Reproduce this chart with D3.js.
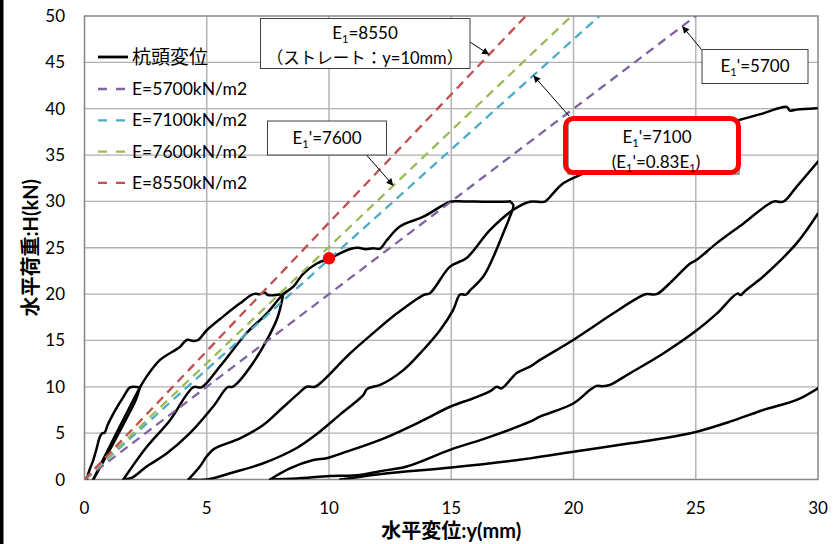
<!DOCTYPE html>
<html>
<head>
<meta charset="utf-8">
<script src="https://cdn.jsdelivr.net/npm/d3@7"></script>
<style>
  body { margin: 0; background: #fff; }
  svg { display: block; font-family: Lato, 'Noto Sans CJK JP', sans-serif; }
</style>
</head>
<body>
<svg id="chart" width="833" height="544"></svg>
<script>
// tick values
const xTicks = [0, 5, 10, 15, 20, 25, 30];
const yTicks = [0, 5, 10, 15, 20, 25, 30, 35, 40, 45, 50];

// reference lines H = k * y  (k)
const eNames = ['E=5700kN/m2', 'E=7100kN/m2', 'E=7600kN/m2', 'E=8550kN/m2'];
const eSlopes = [2.0, 2.374, 2.51, 2.77];

// 杭頭変位 : one array per loading / unloading branch  [y(mm), H(kN)]
const load1 = [[0.09, 0], [0.2, 1.0], [0.36, 2.1], [0.5, 3.4], [0.63, 4.6], [0.72, 5.0], [0.82, 5.05],
  [0.95, 5.9], [1.18, 7.1], [1.4, 8.1], [1.59, 8.9], [1.75, 9.6], [1.86, 9.95], [2.27, 9.95]];
const unload1 = [[2.27, 9.95], [2.1, 8.6], [1.7, 6.5], [1.2, 4.0], [0.7, 1.6], [0.36, 0]];
const load2 = [[0.36, 0], [0.75, 2.1], [1.25, 4.7], [1.75, 7.3], [2.27, 9.95], [2.54, 11.1], [3.09, 12.9],
  [3.9, 14.3], [4.18, 15.05], [4.45, 14.95], [4.65, 15.05], [5.0, 16.1], [5.68, 17.6], [6.36, 19.0],
  [6.9, 20], [7.2, 20], [7.35, 20.2], [7.5, 19.9], [8.13, 20]];
const unload2 = [[8.13, 20], [7.9, 17.5], [7.45, 15.0], [6.9, 12.6], [6.25, 10.4], [6.05, 10.0], [5.85, 9.95],
  [5.27, 7.9], [4.31, 5.0], [3.36, 2.8], [2.54, 1.4], [1.95, 0.2], [1.59, 0]];
const load3 = [[1.59, 0], [2.54, 3.5], [3.5, 6.4], [4.45, 9.95], [4.79, 9.95], [5.54, 12.2], [6.63, 15.8],
  [7.45, 17.9], [8.13, 20], [8.54, 20.8], [8.95, 22.2], [9.5, 23.3], [10.04, 23.86], [10.45, 24.4],
  [10.9, 24.9], [11.2, 25.0], [11.5, 24.85], [11.8, 24.95], [12.09, 24.9], [12.36, 25.8], [12.9, 27.3],
  [13.86, 28.35], [14.54, 29.4], [14.95, 29.97], [15.5, 30.0], [16.5, 29.95], [17.4, 30.0]];
const unload3 = [[17.4, 30.0], [17.54, 29.6], [17.4, 28.35], [17.13, 26.6], [16.72, 24.0], [16.31, 21.9],
  [15.77, 20.4], [15.6, 19.95], [15.36, 19.95], [15.08, 18.3], [14.54, 16.1], [13.86, 14.0], [13.04, 11.8],
  [12.09, 10.2], [11.8, 10.0], [11.55, 9.75], [11.4, 9.1], [10.45, 7.0], [9.5, 4.9], [8.68, 3.4],
  [7.31, 1.75], [5.95, 0.67], [5.0, 0], [4.25, 0]];
const load4 = [[4.25, 0], [4.72, 1.4], [5.0, 2.5], [5.3, 3.3], [6.36, 4.44], [7.31, 5.88], [8.0, 7.5],
  [8.8, 9.4], [9.09, 10.0], [9.43, 10.0], [9.77, 10.7], [10.86, 13.6], [11.81, 15.8], [12.77, 17.9],
  [13.86, 19.9], [14.13, 20.1], [14.95, 22.96], [15.63, 23.9], [16.58, 26.9], [17.54, 29.1], [18.22, 29.97],
  [18.83, 29.97], [19.04, 30.5], [19.58, 31.95], [20.27, 32.85], [21.5, 34.2], [23.0, 35.6], [24.5, 36.9],
  [25.8, 38.0], [26.81, 38.8], [27.76, 39.5], [28.72, 40.2], [28.85, 39.8], [29.13, 39.9], [29.95, 40.05]];
const load5 = [[7.59, 0], [8.4, 1.2], [9.36, 2.1], [9.9, 2.3], [10.72, 3.0], [12.3, 4.5], [13.86, 6.4],
  [14.95, 7.85], [15.9, 8.76], [16.58, 9.5], [16.86, 10.0], [17.06, 9.83], [17.68, 11.5], [18.22, 12.17],
  [18.63, 12.9], [19.99, 15.05], [21.63, 17.93], [22.72, 19.72], [22.99, 20.0], [23.4, 20.0], [23.95, 21.2],
  [24.77, 23.3], [25.04, 23.7], [25.86, 25.5], [26.94, 27.6], [28.17, 29.97], [28.58, 29.97], [29.13, 31.6],
  [30.0, 34.3]];
const unload5 = [[30.0, 28.7], [29.13, 25.5], [27.76, 21.9], [27.0, 20.3], [26.85, 19.9], [26.7, 20.05],
  [25.86, 17.9], [25.04, 16.1], [23.67, 13.6], [22.3, 11.45], [21.49, 10.2], [21.2, 10.05], [20.95, 10.1],
  [20.67, 9.65], [19.99, 8.2], [18.63, 6.78], [18.22, 6.24], [16.58, 4.6], [14.95, 3.2], [13.18, 1.4],
  [12.09, 0.9], [11.13, 0.45], [10.04, 0.38], [8.68, 0.1], [7.59, 0]];
const load6 = [[10.45, 0], [12.5, 0.7], [15.0, 1.3], [18.22, 2.28], [19.99, 3.0], [22.31, 3.9],
  [23.67, 4.44], [25.04, 5.16], [26.4, 6.24], [27.76, 7.5], [29.13, 8.58], [30.0, 9.84]];

const branches = [load1, unload1, load2, unload2, load3, unload3, load4, load5, unload5, load6];
const markPoint = [10.0, 23.86];

// styles
const eColors = ['#8064A2', '#4BACC6', '#9BBB59', '#C0504D'];

var svg = d3.select('#chart');

// plot area edges (px)
var pL = 84.5, pT = 16, pR = 818, pB = 479.5;
var xScale = d3.scaleLinear([0, 30], [pL, pR]),
    yScale = d3.scaleLinear([0, 50], [pB, pT]);

svg.append('rect').attr('x', 0).attr('y', 0).attr('width', 833).attr('height', 544).attr('fill', '#fff');
svg.append('rect').attr('x', 0).attr('y', 0).attr('width', 3.5).attr('height', 544).attr('fill', '#000');

// grid
svg.append('g').selectAll('line')
    .data(yTicks.slice(1, -1))
    .enter().append('line')
    .attr('x1', pL).attr('x2', pR)
    .attr('y1', d => yScale(d)).attr('y2', d => yScale(d))
    .attr('stroke', '#b0b0b0').attr('stroke-width', 1.3);
svg.append('g').selectAll('line')
    .data(xTicks.slice(1, -1))
    .enter().append('line')
    .attr('y1', pT).attr('y2', pB)
    .attr('x1', d => xScale(d)).attr('x2', d => xScale(d))
    .attr('stroke', '#b8b8b8').attr('stroke-width', 1.6);
svg.append('rect')
    .attr('x', pL).attr('y', pT)
    .attr('width', pR - pL).attr('height', pB - pT)
    .attr('fill', 'none').attr('stroke', '#868686').attr('stroke-width', 1.5);

// tick labels
svg.append('g').selectAll('text')
    .data(yTicks).enter().append('text')
    .attr('x', 65).attr('y', d => yScale(d) + 6)
    .attr('text-anchor', 'end').attr('font-size', 17)
    .text(d => d);
svg.append('g').selectAll('text')
    .data(xTicks).enter().append('text')
    .attr('x', d => xScale(d)).attr('y', 514)
    .attr('text-anchor', 'middle').attr('font-size', 17)
    .text(d => d);

// axis titles
svg.append('text')
    .attr('x', (pL + pR) / 2).attr('y', 538)
    .attr('text-anchor', 'middle').attr('font-size', 20).attr('font-weight', 'bold')
    .text('水平変位:y(mm)');
svg.append('text')
    .attr('transform', 'translate(38,' + (pT + pB) / 2 + ') rotate(-90)')
    .attr('text-anchor', 'middle').attr('font-size', 20).attr('font-weight', 'bold')
    .text('水平荷重:H(kN)');

// data
svg.append('clipPath').attr('id', 'plotclip')
  .append('rect').attr('x', pL).attr('y', pT).attr('width', pR - pL).attr('height', pB - pT);
var plot = svg.append('g').attr('clip-path', 'url(#plotclip)');

var line = d3.line().x(d => xScale(d[0])).y(d => yScale(d[1]));
var smooth = d3.line().x(d => xScale(d[0])).y(d => yScale(d[1])).curve(d3.curveCatmullRom.alpha(0.5));

plot.selectAll('path.curve')
    .data(branches).enter().append('path')
    .attr('class', 'curve')
    .attr('d', smooth)
    .attr('fill', 'none').attr('stroke', '#000').attr('stroke-width', 2.5)
    .attr('stroke-linejoin', 'round').attr('stroke-linecap', 'round');

plot.selectAll('path.eline')
    .data(eSlopes).enter().append('path')
    .attr('class', 'eline')
    .attr('d', k => line([[0, 0], [50 / k, 50]]))
    .attr('fill', 'none')
    .attr('stroke', (k, i) => eColors[i]).attr('stroke-width', 2.3)
    .attr('stroke-dasharray', '9,6');

svg.append('circle')
    .attr('cx', xScale(markPoint[0])).attr('cy', yScale(markPoint[1]))
    .attr('r', 6.2).attr('fill', '#ff0000');

// legend
var legend = svg.append('g');
legend.append('line')
    .attr('x1', 98).attr('x2', 128).attr('y1', 57).attr('y2', 57)
    .attr('stroke', '#000').attr('stroke-width', 2.8);
legend.append('text').attr('x', 132).attr('y', 64).attr('font-size', 19).text('杭頭変位');
eNames.forEach(function(name, i) {
  var ly = 89 + i * 31.3;
  legend.append('line')
      .attr('x1', 98).attr('x2', 126).attr('y1', ly).attr('y2', ly)
      .attr('stroke', eColors[i]).attr('stroke-width', 2.3)
      .attr('stroke-dasharray', '9,9');
  legend.append('text').attr('x', 132).attr('y', ly + 6).attr('font-size', 17.5).text(name);
});

// annotations
svg.append('defs').append('marker')
    .attr('id', 'head').attr('viewBox', '0 0 10 10')
    .attr('refX', 10).attr('refY', 5)
    .attr('markerWidth', 8).attr('markerHeight', 7)
    .attr('markerUnits', 'userSpaceOnUse')
    .attr('orient', 'auto')
  .append('path').attr('d', 'M0,0L10,5L0,10z').attr('fill', '#000');

var notes = svg.append('g');

function arrow(x1, y1, xv, k) {
  notes.append('line')
      .attr('x1', x1).attr('y1', y1)
      .attr('x2', xScale(xv)).attr('y2', yScale(k * xv))
      .attr('stroke', '#000').attr('stroke-width', 1)
      .attr('marker-end', 'url(#head)');
}

function box(x, y, w, h) {
  notes.append('rect').attr('x', x).attr('y', y).attr('width', w).attr('height', h)
      .attr('fill', '#fff').attr('stroke', '#404040').attr('stroke-width', 1);
}

function label(x, y, parts, size) {
  var t = notes.append('text').attr('x', x).attr('y', y)
      .attr('text-anchor', 'middle').attr('font-size', size);
  var down = false;
  parts.forEach(function(p) {
    var s = t.append('tspan').text(p.t);
    if (p.sub) { s.attr('font-size', size * 0.65).attr('dy', 4); down = true; }
    else if (down) { s.attr('dy', -4); down = false; }
  });
}

arrow(470, 42, 16.55, eSlopes[3]);
box(260.5, 18.5, 209.5, 50);
label(365, 38.5, [{t: 'E'}, {t: '1', sub: true}, {t: '=8550'}], 17);
label(365, 63.5, [{t: '（ストレート：y=10mm）'}], 16.5);

arrow(366.5, 155, 12.63, eSlopes[2]);
box(267.5, 121, 119, 34);
label(327, 143.5, [{t: 'E'}, {t: '1', sub: true}, {t: "'=7600"}], 17);

arrow(701.5, 49.5, 24.45, eSlopes[0]);
box(702, 49.5, 106, 34);
label(755, 72, [{t: 'E'}, {t: '1', sub: true}, {t: "'=5700"}], 17);

arrow(569, 116, 18.36, eSlopes[1]);
box(568, 120, 171, 54);
notes.append('rect')
    .attr('x', 565.5).attr('y', 118.5).attr('width', 173).attr('height', 54)
    .attr('rx', 8).attr('ry', 8)
    .attr('fill', 'none').attr('stroke', '#ff0000').attr('stroke-width', 5);
label(657, 142.5, [{t: 'E'}, {t: '1', sub: true}, {t: "'=7100"}], 17);
label(656, 167.5, [{t: '(E'}, {t: '1', sub: true}, {t: "'=0.83E"}, {t: '1', sub: true}, {t: ')'}], 17);
</script>
</body>
</html>
